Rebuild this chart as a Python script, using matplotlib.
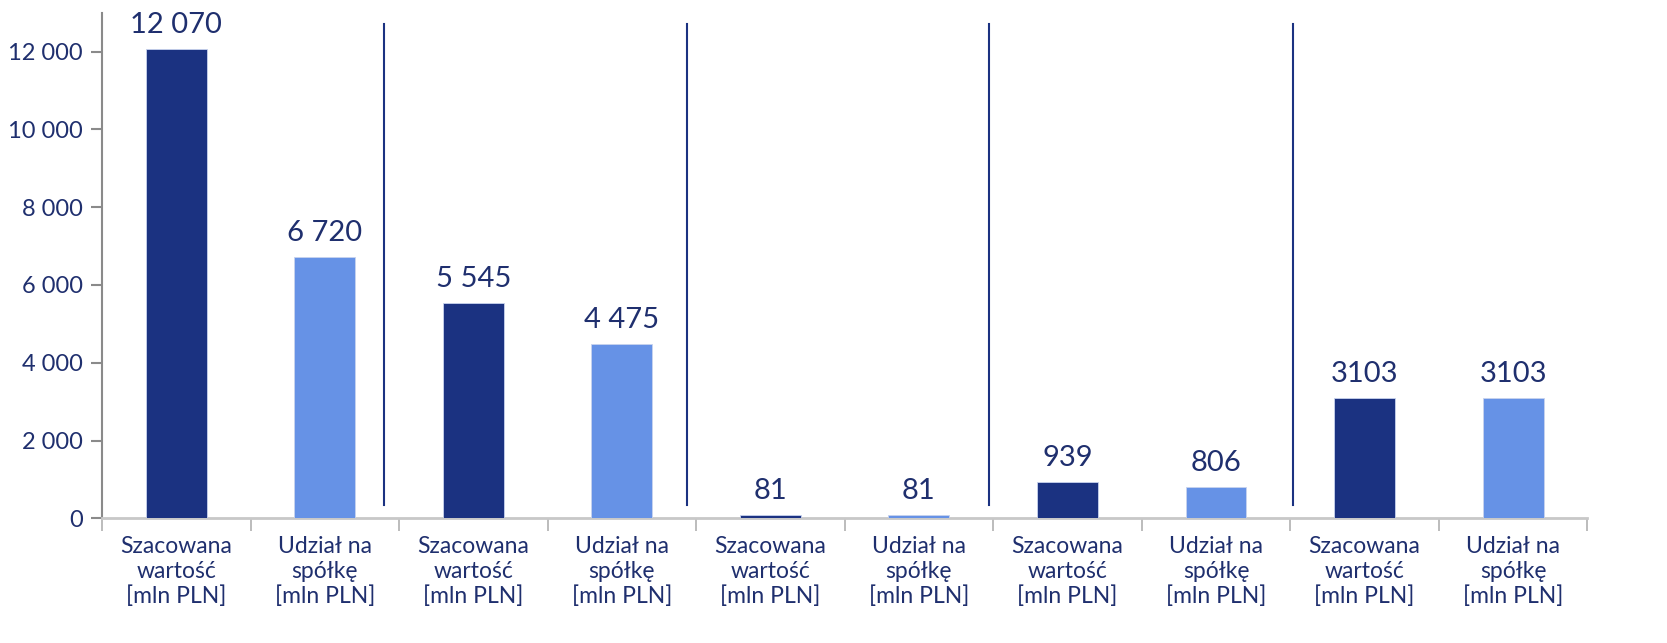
import matplotlib.pyplot as plt
from matplotlib.ticker import FuncFormatter

# dane
labels = ["Szacowana\nwartość\n[mln PLN]", "Udział na\nspółkę\n[mln PLN]"] * 5
values = [12070, 6720, 5545, 4475, 81, 81, 939, 806, 3103, 3103]
value_text = ["12 070", "6 720", "5 545", "4 475", "81", "81", "939", "806", "3103", "3103"]
separators = [1.40, 3.44, 5.47, 7.52]

dark = "#1b3281"
light = "#6692e6"
txt = "#1f2f6e"

plt.rcParams['font.family'] = ['Lato', 'DejaVu Sans']

fig = plt.figure(figsize=(16.67, 6.43), dpi=100)
ax = fig.add_axes([0.0612, 0.194, 0.891, 0.786])

x = list(range(len(values)))
colors = [dark if i % 2 == 0 else light for i in x]
ax.bar(x, values, width=0.41, color=colors, edgecolor="#c8d3ee", linewidth=0.6, zorder=3)

for xi, v, t in zip(x, values, value_text):
    ax.text(xi, v + 280, t, ha="center", va="bottom", fontsize=21, color=txt)

for s in separators:
    ax.plot([s, s], [330, 12720], color=dark, linewidth=1.5)

ax.set_xlim(-0.5, 9.5)
ax.set_ylim(0, 13000)
ax.set_yticks(range(0, 12001, 2000))
ax.yaxis.set_major_formatter(FuncFormatter(lambda v, p: f"{int(v):,}".replace(",", " ")))
ax.tick_params(axis="y", labelsize=17, colors="#8a8a8a", labelcolor=txt, length=8, width=1.5, pad=6)

ax.set_xticks([i - 0.5 for i in range(11)])
ax.set_xticklabels([])
ax.set_xticks(x, minor=True)
ax.set_xticklabels(labels, minor=True, fontsize=16.5, color=txt, linespacing=1.2)
ax.tick_params(axis="x", which="major", length=9, width=1.2, colors="#b0b0b0")
ax.tick_params(axis="x", which="minor", length=0, pad=13)

for side in ["top", "right"]:
    ax.spines[side].set_visible(False)
ax.spines["left"].set_color("#8a8a8a")
ax.spines["left"].set_linewidth(1.5)
ax.spines["bottom"].set_color("#c8c8c8")
ax.spines["bottom"].set_linewidth(2)

fig.savefig("out.png", dpi=100)
